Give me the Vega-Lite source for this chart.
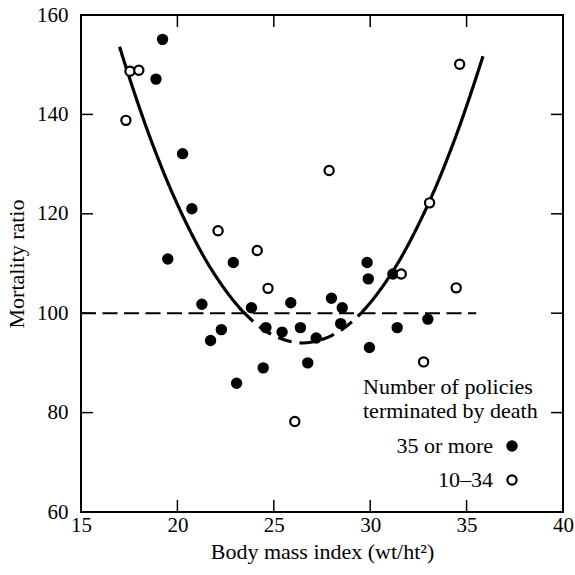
{
  "$schema": "https://vega.github.io/schema/vega-lite/v6.json",
  "width": 482,
  "height": 497,
  "autosize": {"type": "none"},
  "padding": {"left": 81, "top": 15, "right": 12, "bottom": 63},
  "background": "white",
  "config": {
    "view": {"stroke": "black", "strokeWidth": 2},
    "font": "Liberation Serif",
    "axis": {
      "grid": false,
      "labelFont": "Liberation Serif",
      "labelFontSize": 21,
      "labelColor": "black",
      "titleFont": "Liberation Serif",
      "titleFontSize": 22,
      "titleFontWeight": "normal",
      "titleColor": "black"
    },
    "legend": {
      "titleFont": "Liberation Serif",
      "labelFont": "Liberation Serif"
    }
  },
  "datasets": {
    "ref": [{"bmi": 15, "ratio": 100}, {"bmi": 35.5, "ratio": 100}],
    "xticks": [
      {"bmi": 20, "ratio": 60}, {"bmi": 25, "ratio": 60}, {"bmi": 30, "ratio": 60}, {"bmi": 35, "ratio": 60},
      {"bmi": 20, "ratio": 160}, {"bmi": 25, "ratio": 160}, {"bmi": 30, "ratio": 160}, {"bmi": 35, "ratio": 160}
    ],
    "yticks": [
      {"bmi": 15, "ratio": 80}, {"bmi": 15, "ratio": 100}, {"bmi": 15, "ratio": 120}, {"bmi": 15, "ratio": 140},
      {"bmi": 40, "ratio": 80}, {"bmi": 40, "ratio": 100}, {"bmi": 40, "ratio": 120}, {"bmi": 40, "ratio": 140}
    ],
    "curve": [
      {"bmi": 17.0, "ratio": 153.6, "part": "a"},
      {"bmi": 17.5, "ratio": 147.5, "part": "a"},
      {"bmi": 18.0, "ratio": 141.7, "part": "a"},
      {"bmi": 18.5, "ratio": 136.2, "part": "a"},
      {"bmi": 19.0, "ratio": 131.1, "part": "a"},
      {"bmi": 19.5, "ratio": 126.3, "part": "a"},
      {"bmi": 20.0, "ratio": 121.9, "part": "a"},
      {"bmi": 20.5, "ratio": 117.8, "part": "a"},
      {"bmi": 21.0, "ratio": 114.0, "part": "a"},
      {"bmi": 21.5, "ratio": 110.5, "part": "a"},
      {"bmi": 22.0, "ratio": 107.4, "part": "a"},
      {"bmi": 22.5, "ratio": 104.6, "part": "a"},
      {"bmi": 23.0, "ratio": 102.1, "part": "a"},
      {"bmi": 23.4, "ratio": 100.3, "part": "a"},
      {"bmi": 23.4, "ratio": 100.3, "part": "b"},
      {"bmi": 24.0, "ratio": 98.1, "part": "b"},
      {"bmi": 24.5, "ratio": 96.6, "part": "b"},
      {"bmi": 25.0, "ratio": 95.5, "part": "b"},
      {"bmi": 25.5, "ratio": 94.7, "part": "b"},
      {"bmi": 26.0, "ratio": 94.2, "part": "b"},
      {"bmi": 26.5, "ratio": 94.0, "part": "b"},
      {"bmi": 27.0, "ratio": 94.2, "part": "b"},
      {"bmi": 27.5, "ratio": 94.7, "part": "b"},
      {"bmi": 28.0, "ratio": 95.5, "part": "b"},
      {"bmi": 28.5, "ratio": 96.6, "part": "b"},
      {"bmi": 29.0, "ratio": 98.1, "part": "b"},
      {"bmi": 29.5, "ratio": 99.9, "part": "b"},
      {"bmi": 29.5, "ratio": 99.9, "part": "c"},
      {"bmi": 30.0, "ratio": 102.1, "part": "c"},
      {"bmi": 30.5, "ratio": 104.6, "part": "c"},
      {"bmi": 31.0, "ratio": 107.4, "part": "c"},
      {"bmi": 31.5, "ratio": 110.5, "part": "c"},
      {"bmi": 32.0, "ratio": 114.0, "part": "c"},
      {"bmi": 32.5, "ratio": 117.8, "part": "c"},
      {"bmi": 33.0, "ratio": 121.9, "part": "c"},
      {"bmi": 33.5, "ratio": 126.3, "part": "c"},
      {"bmi": 34.0, "ratio": 131.1, "part": "c"},
      {"bmi": 34.5, "ratio": 136.2, "part": "c"},
      {"bmi": 35.0, "ratio": 141.7, "part": "c"},
      {"bmi": 35.5, "ratio": 147.5, "part": "c"},
      {"bmi": 35.85, "ratio": 151.7, "part": "c"}
    ],
    "points": [
      {"bmi": 19.23, "ratio": 155.1, "policies": "35 or more"},
      {"bmi": 18.89, "ratio": 147.1, "policies": "35 or more"},
      {"bmi": 20.27, "ratio": 132.1, "policies": "35 or more"},
      {"bmi": 20.75, "ratio": 121.0, "policies": "35 or more"},
      {"bmi": 19.5, "ratio": 110.9, "policies": "35 or more"},
      {"bmi": 22.9, "ratio": 110.2, "policies": "35 or more"},
      {"bmi": 21.27, "ratio": 101.8, "policies": "35 or more"},
      {"bmi": 23.84, "ratio": 101.1, "policies": "35 or more"},
      {"bmi": 25.88, "ratio": 102.1, "policies": "35 or more"},
      {"bmi": 27.99, "ratio": 103.0, "policies": "35 or more"},
      {"bmi": 28.55, "ratio": 101.1, "policies": "35 or more"},
      {"bmi": 22.28, "ratio": 96.7, "policies": "35 or more"},
      {"bmi": 21.72, "ratio": 94.5, "policies": "35 or more"},
      {"bmi": 24.59, "ratio": 97.1, "policies": "35 or more"},
      {"bmi": 25.43, "ratio": 96.2, "policies": "35 or more"},
      {"bmi": 26.38, "ratio": 97.1, "policies": "35 or more"},
      {"bmi": 27.2, "ratio": 95.0, "policies": "35 or more"},
      {"bmi": 28.47, "ratio": 97.9, "policies": "35 or more"},
      {"bmi": 29.84, "ratio": 110.2, "policies": "35 or more"},
      {"bmi": 29.9, "ratio": 106.9, "policies": "35 or more"},
      {"bmi": 29.96, "ratio": 93.1, "policies": "35 or more"},
      {"bmi": 23.07, "ratio": 85.9, "policies": "35 or more"},
      {"bmi": 24.45, "ratio": 89.0, "policies": "35 or more"},
      {"bmi": 26.76, "ratio": 90.0, "policies": "35 or more"},
      {"bmi": 31.18, "ratio": 107.9, "policies": "35 or more"},
      {"bmi": 31.4, "ratio": 97.1, "policies": "35 or more"},
      {"bmi": 32.99, "ratio": 98.8, "policies": "35 or more"},
      {"bmi": 17.33, "ratio": 138.8, "policies": "10–34"},
      {"bmi": 17.54, "ratio": 148.7, "policies": "10–34"},
      {"bmi": 18.0, "ratio": 148.9, "policies": "10–34"},
      {"bmi": 22.11, "ratio": 116.6, "policies": "10–34"},
      {"bmi": 24.14, "ratio": 112.6, "policies": "10–34"},
      {"bmi": 24.7, "ratio": 105.0, "policies": "10–34"},
      {"bmi": 26.09, "ratio": 78.2, "policies": "10–34"},
      {"bmi": 27.87, "ratio": 128.7, "policies": "10–34"},
      {"bmi": 33.08, "ratio": 122.2, "policies": "10–34"},
      {"bmi": 31.61, "ratio": 107.9, "policies": "10–34"},
      {"bmi": 34.46, "ratio": 105.1, "policies": "10–34"},
      {"bmi": 32.77, "ratio": 90.2, "policies": "10–34"},
      {"bmi": 34.64, "ratio": 150.1, "policies": "10–34"}
    ]
  },
  "resolve": {"axis": {"x": "independent", "y": "independent"}},
  "layer": [
    {
      "data": {"name": "ref"},
      "mark": {"type": "line", "stroke": "black", "strokeWidth": 2, "strokeDash": [15, 6.5]},
      "encoding": {
        "x": {"field": "bmi", "type": "quantitative", "scale": {"domain": [15, 40], "nice": false, "zero": false}, "axis": null},
        "y": {"field": "ratio", "type": "quantitative", "scale": {"domain": [60, 160], "nice": false, "zero": false}, "axis": null}
      }
    },
    {
      "data": {"name": "xticks"},
      "mark": {"type": "tick", "orient": "vertical", "size": 24, "thickness": 1.5, "color": "black", "opacity": 1, "clip": true},
      "encoding": {
        "x": {"field": "bmi", "type": "quantitative", "axis": null},
        "y": {"field": "ratio", "type": "quantitative", "axis": null}
      }
    },
    {
      "data": {"name": "yticks"},
      "mark": {"type": "tick", "orient": "horizontal", "size": 24, "thickness": 1.5, "color": "black", "opacity": 1, "clip": true},
      "encoding": {
        "x": {"field": "bmi", "type": "quantitative", "axis": null},
        "y": {"field": "ratio", "type": "quantitative", "axis": null}
      }
    },
    {
      "data": {"name": "curve"},
      "mark": {"type": "line", "stroke": "black", "strokeWidth": 3.2, "interpolate": "monotone"},
      "encoding": {
        "x": {"field": "bmi", "type": "quantitative", "axis": null},
        "y": {"field": "ratio", "type": "quantitative", "axis": null},
        "strokeDash": {"field": "part", "type": "nominal",
                       "scale": {"domain": ["a", "b", "c"], "range": [[1, 0], [14, 8], [1, 0]]},
                       "legend": null}
      }
    },
    {
      "data": {"name": "points"},
      "mark": {"type": "circle", "stroke": "black", "strokeWidth": 2.2, "size": 85, "opacity": 1},
      "encoding": {
        "x": {"field": "bmi", "type": "quantitative",
              "axis": {"orient": "bottom", "ticks": false, "domain": false, "title": "Body mass index (wt/ht²)", "values": [15, 20, 25, 30, 35, 40],
                       "labelPadding": 2, "titlePadding": 6, "labelFlush": false}},
        "y": {"field": "ratio", "type": "quantitative",
              "axis": {"orient": "left", "ticks": false, "domain": false, "title": "Mortality ratio", "values": [60, 80, 100, 120, 140, 160],
                       "labelPadding": 13, "titlePadding": 8, "labelFlush": false}},
        "fill": {"field": "policies", "type": "nominal",
                 "scale": {"domain": ["35 or more", "10–34"], "range": ["black", "white"]},
                 "legend": {
                   "orient": "none",
                   "legendX": 282,
                   "legendY": 362,
                   "title": ["Number of policies", "terminated by death"],
                   "titleFontSize": 22,
                   "titleFontWeight": "normal",
                   "titleColor": "black",
                   "titleLineHeight": 24,
                   "titlePadding": 12,
                   "labelFontSize": 22,
                   "labelColor": "black",
                   "labelAlign": "right",
                   "labelOffset": -30,
                   "symbolOffset": 138,
                   "symbolSize": 85,
                   "symbolStrokeColor": "black",
                   "symbolStrokeWidth": 2.2,
                   "symbolOpacity": 1,
                   "rowPadding": 12,
                   "labelLimit": 300
                 }}
      }
    }
  ]
}
